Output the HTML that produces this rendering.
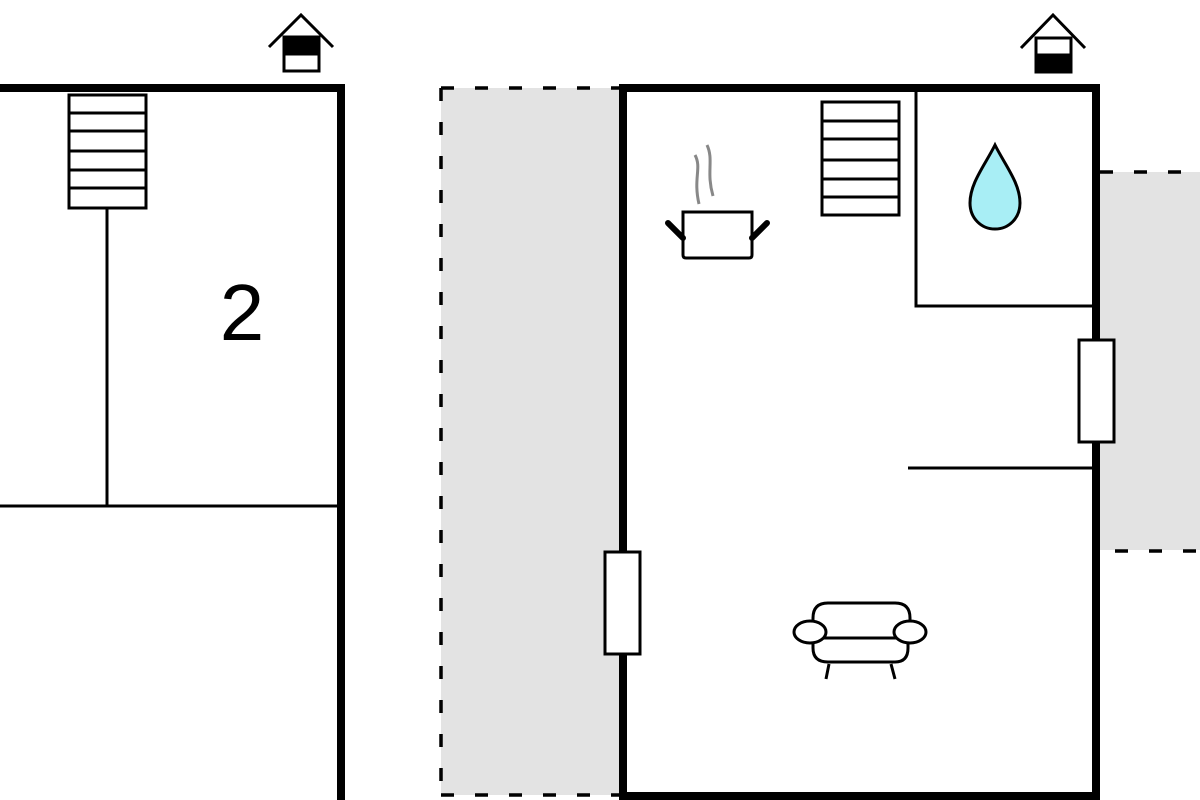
<!DOCTYPE html>
<html><head><style>html,body{margin:0;padding:0;background:#fff;}svg{display:block}</style></head>
<body>
<svg width="1200" height="800" viewBox="0 0 1200 800" xmlns="http://www.w3.org/2000/svg">
<rect width="1200" height="800" fill="#fff"/>
<rect x="441" y="88" width="180" height="707" fill="#e3e3e3"/>
<rect x="1100" y="172" width="100" height="378" fill="#e3e3e3"/>
<g stroke="#000" stroke-width="3.5" fill="none" stroke-dasharray="13,21">
<line x1="441" y1="88" x2="621" y2="88"/>
<line x1="441" y1="88" x2="441" y2="795"/>
<line x1="441" y1="795" x2="621" y2="795"/>
<line x1="1100" y1="172" x2="1200" y2="172"/>
<line x1="1115" y1="551" x2="1200" y2="551"/>
</g>
<g stroke="#000" fill="none">
<path d="M-5 88 H341 V800" stroke-width="8"/>
<line x1="0" y1="506" x2="338" y2="506" stroke-width="3"/>
<line x1="107" y1="208" x2="107" y2="506" stroke-width="3"/>
<rect x="69" y="95" width="77" height="113" fill="#fff" stroke-width="3"/>
<path d="M69 113H146M69 131H146M69 151H146M69 170H146M69 188H146" stroke-width="3"/>
</g>
<text x="242" y="340" font-family="Liberation Sans, sans-serif" font-size="80" text-anchor="middle" fill="#000">2</text>
<g stroke="#000" fill="none" stroke-width="3">
<path d="M269 47 L301 15 L333 47"/>
<rect x="284" y="37" width="35" height="34" fill="#fff"/>
<rect x="284" y="37" width="35" height="17" fill="#000"/>
</g>
<g stroke="#000" fill="none">
<rect x="623" y="88" width="473" height="708" stroke-width="8"/>
<path d="M916 90 V306 H1093" stroke-width="3"/>
<line x1="908" y1="468" x2="1093" y2="468" stroke-width="3"/>
<rect x="822" y="102" width="77" height="113" fill="#fff" stroke-width="3"/>
<path d="M822 121H899M822 139H899M822 160H899M822 179H899M822 197H899" stroke-width="3"/>
<rect x="1079" y="340" width="35" height="102" fill="#fff" stroke-width="3"/>
<rect x="605" y="552" width="35" height="102" fill="#fff" stroke-width="3"/>
</g>
<g stroke="#000" fill="none" stroke-width="3">
<path d="M1021 48 L1053 15 L1085 48"/>
<rect x="1036" y="38" width="35" height="34" fill="#fff"/>
<rect x="1036" y="55" width="35" height="17" fill="#000"/>
</g>
<path d="M995 145 C985 165 970 183 970 203 C970 218 981 229 995 229 C1009 229 1020 218 1020 203 C1020 183 1005 165 995 145 Z" fill="#a8eef5" stroke="#000" stroke-width="3"/>
<g stroke="#000" fill="#fff" stroke-width="3">
<path d="M683 212 H752 V255 Q752 258 749 258 H686 Q683 258 683 255 Z"/>
<line x1="683" y1="238" x2="668" y2="223" stroke-width="6" stroke-linecap="round"/>
<line x1="752" y1="238" x2="767" y2="223" stroke-width="6" stroke-linecap="round"/>
</g>
<g stroke="#888" fill="none" stroke-width="3">
<path d="M695 155 C702 168 693 178 699 204"/>
<path d="M707 145 C714 160 706 172 713 196"/>
</g>
<g stroke="#000" fill="#fff" stroke-width="3">
<path d="M813 632 V618 Q813 603 828 603 H895 Q910 603 910 618 V632"/>
<path d="M813 638 V648 Q813 662 828 662 H895 Q908 662 908 648 V638"/>
<line x1="820" y1="638" x2="900" y2="638"/>
<ellipse cx="810" cy="632" rx="16" ry="11"/>
<ellipse cx="910" cy="632" rx="16" ry="11"/>
<path d="M829 664 L826 679 M891 664 L895 679" fill="none"/>
</g>
</svg>
</body></html>
